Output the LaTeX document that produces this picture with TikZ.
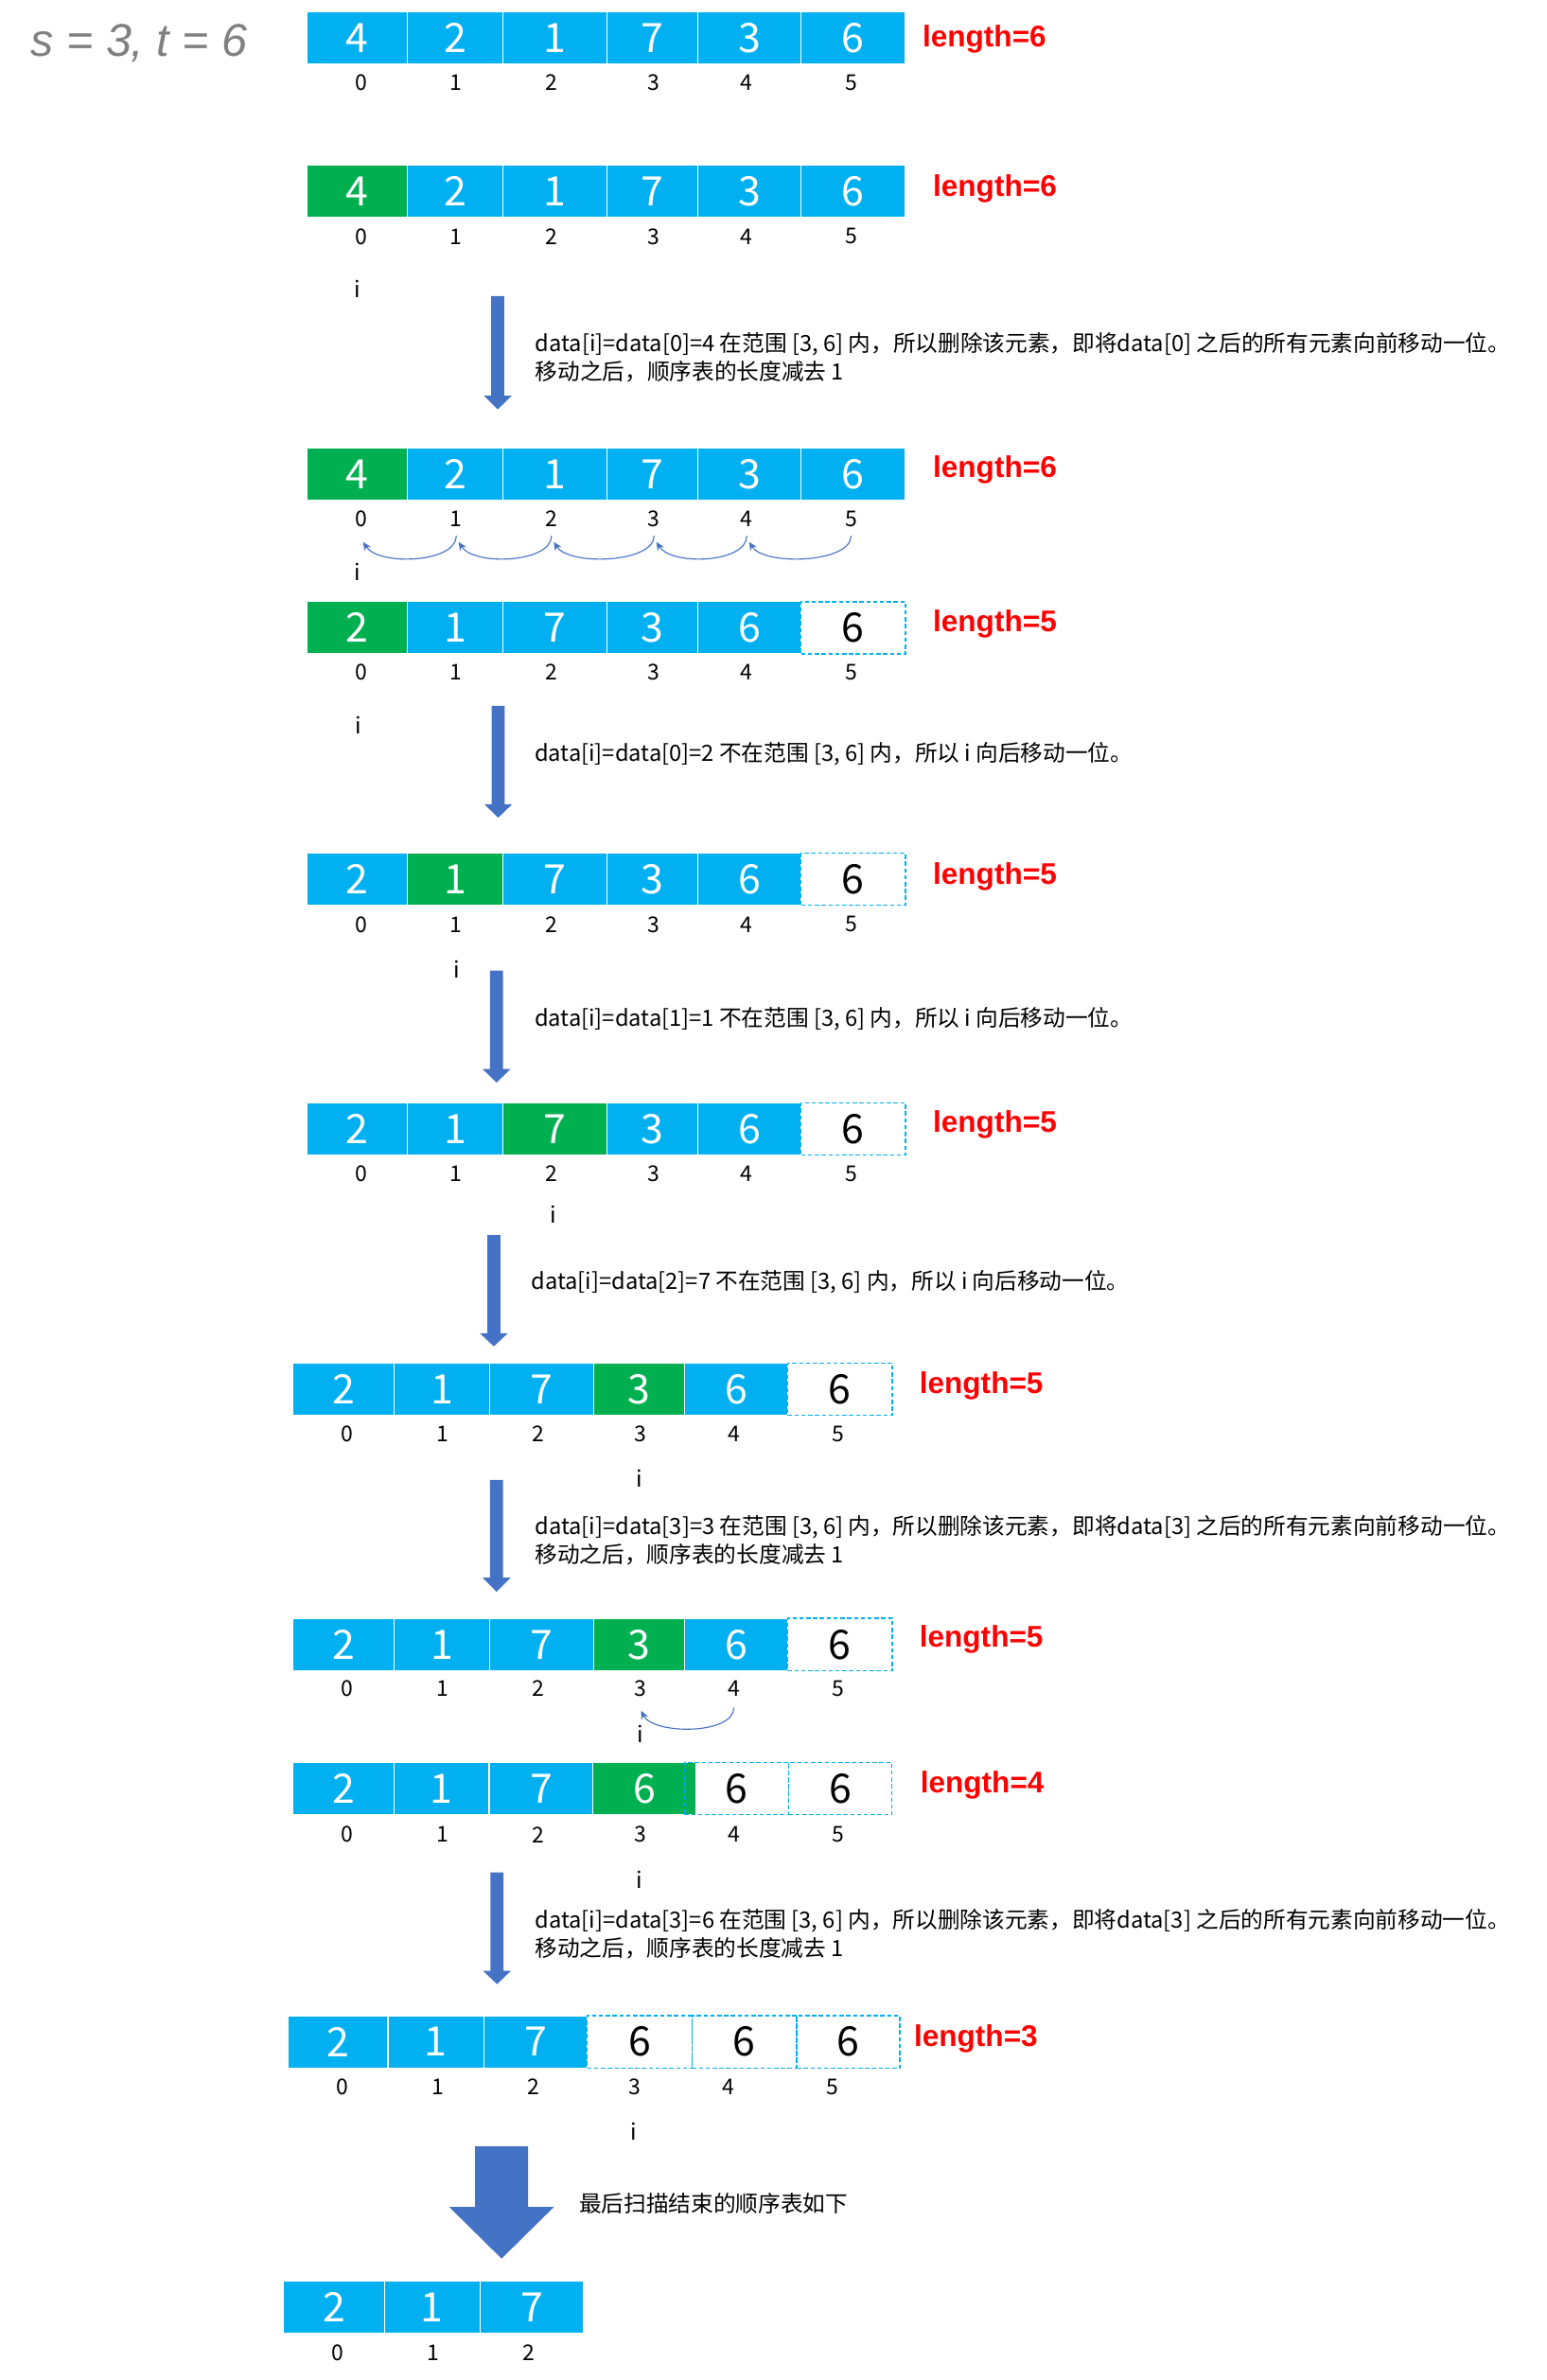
\documentclass[tikz,border=0pt]{standalone}
\usepackage{fontspec}
\setmainfont{Noto Sans CJK SC}
\newfontfamily\libsans{Liberation Sans}
\usetikzlibrary{arrows.meta}
\definecolor{cblue}{HTML}{00B0F0}
\definecolor{cgreen}{HTML}{00B050}
\definecolor{ablue}{HTML}{4472C4}
\definecolor{sgray}{HTML}{808080}

\tikzset{
 cellbase/.style={rectangle, inner sep=0pt, font=\fontsize{19pt}{19pt}\selectfont},
 cb/.style={cellbase, fill=cblue, draw=white, line width=0.5pt, text=white},
 cg/.style={cellbase, fill=cgreen, draw=white, line width=0.5pt, text=white},
 cd/.style={cellbase, draw=cblue, dash pattern=on 2pt off 1.2pt, line width=0.6pt, text=black},
 idx/.style={inner sep=0pt, font=\fontsize{10.2pt}{10.5pt}\selectfont},
 ilbl/.style={inner sep=0pt, font=\fontsize{10.5pt}{11pt}\selectfont},
 lenlbl/.style={inner sep=0pt, anchor=west, text=red, font=\libsans\bfseries\fontsize{14pt}{14pt}\selectfont},
 note/.style={inner sep=0pt, anchor=west, align=left, font=\fontsize{10.5pt}{13.3pt}\selectfont},
 movearc/.style={-{Stealth[length=4pt,width=3.5pt]}, draw=ablue, line width=0.5pt},
 blockarrow/.style={fill=ablue},
}

\newcommand\seqrow[4]{%
 \foreach \xa/\xb/\cs/\dg/\kk in {#4}{%
   \pgfmathsetmacro\cw{(\xb-\xa)*0.025}%
   \pgfmathsetmacro\ch{(#3-#2)*0.025}%
   \node[\cs, minimum width=\cw cm, minimum height=\ch cm] (#1c\kk) at ({(\xa+\xb)/2},{(#2+#3)/2}) {\dg};
 }}
\newcommand\idxrow[3]{%
 \foreach \xx/\kk in {#3}{\node[idx] (#1i\kk) at (\xx,#2) {\kk};}}
\newcommand\blockdown[4]{%
 \fill[blockarrow] ({#1-4.3},#2) -- ({#1+4.3},#2) -- ({#1+4.3},#3) -- ({#1+9.2},#3) -- (#1,#4) -- ({#1-9.2},#3) -- ({#1-4.3},#3) -- cycle;}

\begin{document}
\begin{tikzpicture}[x=0.025cm, y=-0.025cm]
\useasboundingbox (0,0) rectangle (1019,1568);

% title
\node[inner sep=0pt, anchor=base west, text=sgray, font=\libsans\itshape\fontsize{21.5pt}{21.5pt}\selectfont] (title) at (20,37.4) {s = 3, t = 6};

% row 1
\seqrow{r1}{7.9}{42.4}{202/268.6/cb/4/0, 268.6/331.1/cb/2/1, 331.1/399.8/cb/1/2, 399.8/459.6/cb/7/3, 459.6/527.9/cb/3/4, 527.9/596.6/cb/6/5}
\idxrow{r1}{54.4}{237.8/0, 300.7/1, 363.4/2, 431/3, 492.1/4, 560.8/5}
\node[lenlbl] (l1) at (607.6,25.5) {length=6};

% row 2
\seqrow{r2}{109}{143.1}{202/268.6/cg/4/0, 268.6/331.1/cb/2/1, 331.1/399.8/cb/1/2, 399.8/459.6/cb/7/3, 459.6/527.9/cb/3/4, 527.9/596.6/cb/6/5}
\idxrow{r2}{155.8}{237.8/0, 300.7/1, 363.4/2, 431/3, 492.1/4, 560.8/5}
\node[lenlbl] (l2) at (614.5,124.5) {length=6};
\node[ilbl] (i2) at (235.6,190.1) {i};
\blockdown{328}{195}{260.6}{269.7}
\node[note] (t1) at (352.4,235.8) {data[i]=data[0]=4 在范围 [3, 6] 内，所以删除该元素，即将data[0] 之后的所有元素向前移动一位。\\移动之后，顺序表的长度减去 1};

% row 3
\seqrow{r3}{295.4}{329.7}{202/268.6/cg/4/0, 268.6/331.1/cb/2/1, 331.1/399.8/cb/1/2, 399.8/459.6/cb/7/3, 459.6/527.9/cb/3/4, 527.9/596.6/cb/6/5}
\idxrow{r3}{342}{237.8/0, 300.7/1, 363.4/2, 431/3, 492.1/4, 560.8/5}
\node[lenlbl] (l3) at (614.5,309.5) {length=6};
\foreach \kk/\jj in {5/4,4/3,3/2,2/1,1/0}{%
  \draw[movearc] ([shift={(0,11)}]r3i\kk.center) .. controls +(0,18) and +(10,16) .. ([shift={(1.5,15)}]r3i\jj.center);}
\node[ilbl] (i3) at (235.3,377) {i};

% row 4
\seqrow{r4}{396.4}{430.7}{202/268.6/cg/2/0, 268.6/331.1/cb/1/1, 331.1/399.8/cb/7/2, 399.8/459.6/cb/3/3, 459.6/527.9/cb/6/4, 527.9/596.6/cd/6/5}
\idxrow{r4}{443}{237.8/0, 300.7/1, 363.4/2, 431/3, 492.1/4, 560.8/5}
\node[lenlbl] (l4) at (614.5,411) {length=5};
\node[ilbl] (i4) at (236,477.8) {i};
\blockdown{328.3}{465}{529.8}{538.7}
\node[note] (t2) at (352,496.5) {data[i]=data[0]=2 不在范围 [3, 6] 内，所以 i 向后移动一位。};

% row 5
\seqrow{r5}{562.2}{596.2}{202/268.6/cb/2/0, 268.6/331.1/cg/1/1, 331.1/399.8/cb/7/2, 399.8/459.6/cb/3/3, 459.6/527.9/cb/6/4, 527.9/596.6/cd/6/5}
\idxrow{r5}{609}{237.8/0, 300.7/1, 363.4/2, 431/3, 492.1/4, 560.8/5}
\node[lenlbl] (l5) at (614.5,577.5) {length=5};
\node[ilbl] (i5) at (300.7,638.4) {i};
\blockdown{327.2}{639.4}{704.3}{713.2}
\node[note] (t3) at (352,671) {data[i]=data[1]=1 不在范围 [3, 6] 内，所以 i 向后移动一位。};

% row 6
\seqrow{r6}{726.5}{760.8}{202/268.6/cb/2/0, 268.6/331.1/cb/1/1, 331.1/399.8/cg/7/2, 399.8/459.6/cb/3/3, 459.6/527.9/cb/6/4, 527.9/596.6/cd/6/5}
\idxrow{r6}{773.2}{237.8/0, 300.7/1, 363.4/2, 431/3, 492.1/4, 560.8/5}
\node[lenlbl] (l6) at (614.5,741.2) {length=5};
\node[ilbl] (i6) at (364.6,799.8) {i};
\blockdown{325.4}{813.7}{878.4}{887}
\node[note] (t4) at (349.7,844.5) {data[i]=data[2]=7 不在范围 [3, 6] 内，所以 i 向后移动一位。};

% row 7
\seqrow{r7}{898}{932.4}{193.1/259.6/cb/2/0, 259.6/322.6/cb/1/1, 322.6/391/cb/7/2, 391/451/cg/3/3, 451/519/cb/6/4, 519/588/cd/6/5}
\idxrow{r7}{944.6}{228.7/0, 291.5/1, 354.8/2, 421.7/3, 483.6/4, 552/5}
\node[lenlbl] (l7) at (605.6,913) {length=5};
\node[ilbl] (i7) at (421.4,974.3) {i};
\blockdown{327.2}{975}{1039.4}{1048.7}
\node[note] (t5) at (352.3,1014.9) {data[i]=data[3]=3 在范围 [3, 6] 内，所以删除该元素，即将data[3] 之后的所有元素向前移动一位。\\移动之后，顺序表的长度减去 1};

% row 8
\seqrow{r8}{1066.2}{1100.7}{193.1/259.6/cb/2/0, 259.6/322.6/cb/1/1, 322.6/391/cb/7/2, 391/451/cg/3/3, 451/519/cb/6/4, 519/588/cd/6/5}
\idxrow{r8}{1112.5}{228.7/0, 291.5/1, 354.8/2, 421.7/3, 483.6/4, 552/5}
\node[lenlbl] (l8) at (605.6,1080.3) {length=5};
\draw[movearc] ([shift={(0,12.5)}]r8i4.center) .. controls +(0,18) and +(8,16) .. ([shift={(0.7,14.5)}]r8i3.center);
\node[ilbl] (i8) at (422,1142.6) {i};

% row 9
\seqrow{r9}{1161.3}{1195.6}{193.1/259.6/cb/2/0, 259.6/322.3/cb/1/1, 322.3/390.8/cb/7/2, 390.8/458.8/cg/6/3, 451/519.7/cd/6/4, 519.7/587.8/cd/6/5}
\idxrow{r9}{1208.7}{228.7/0, 291.5/1, 354.8/2, 421.7/3, 483.6/4, 552/5}
\node[lenlbl] (l9) at (606.2,1176.3) {length=4};
\node[ilbl] (i9) at (421.3,1238.2) {i};
\blockdown{327.5}{1233.6}{1298.4}{1307.2}
\node[note] (t6) at (352.2,1274.2) {data[i]=data[3]=6 在范围 [3, 6] 内，所以删除该元素，即将data[3] 之后的所有元素向前移动一位。\\移动之后，顺序表的长度减去 1};

% row 10
\seqrow{r10}{1328}{1362.4}{190/255.6/cb/2/0, 255.6/318.8/cb/1/1, 318.8/387/cb/7/2, 387/456/cd/6/3, 456/525/cd/6/4, 525/593/cd/6/5}
\idxrow{r10}{1374.9}{225.4/0, 288.6/1, 351.8/2, 418/3, 480/4, 548.5/5}
\node[lenlbl] (l10) at (602,1343.1) {length=3};
\node[ilbl] (i10) at (417.6,1404.4) {i};

% big arrow
\fill[blockarrow] (313,1414) -- (348,1414) -- (348,1454) -- (365,1454) -- (330.5,1488) -- (296,1454) -- (313,1454) -- cycle;
\node[note] (t7) at (381.3,1451.7) {最后扫描结束的顺序表如下};

% row 11
\seqrow{r11}{1502.8}{1537}{186.9/253.2/cb/2/0, 253.2/316.5/cb/1/1, 316.5/384.5/cb/7/2}
\idxrow{r11}{1549.8}{222.6/0, 285.4/1, 348.6/2}
\end{tikzpicture}
\end{document}
